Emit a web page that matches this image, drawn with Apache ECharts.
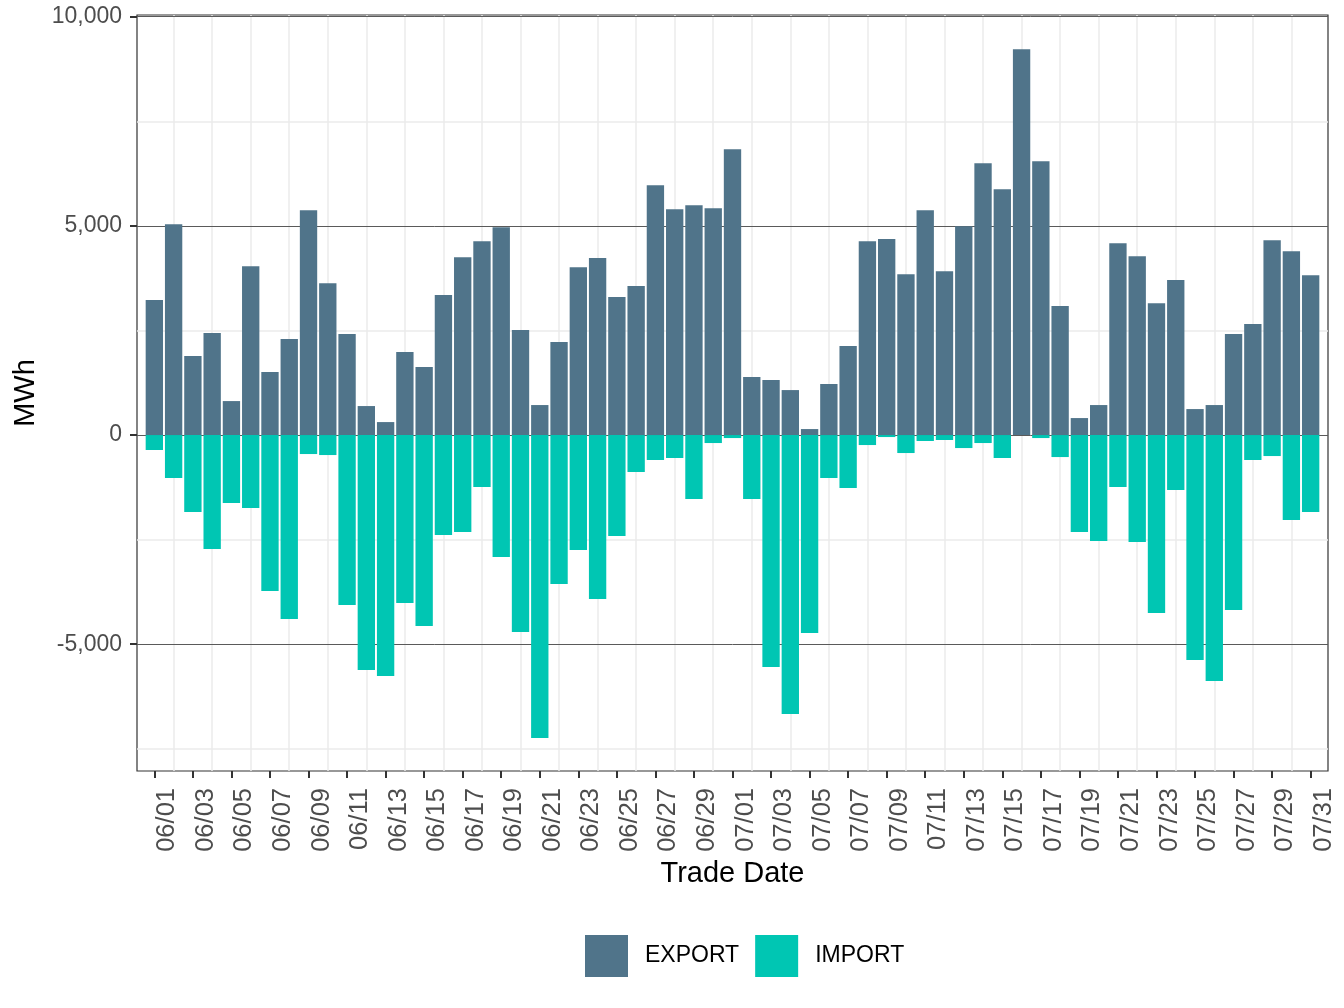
<!DOCTYPE html>
<html>
<head>
<meta charset="utf-8">
<script src="https://cdn.jsdelivr.net/npm/echarts@6/dist/echarts.min.js"></script>
<style>
html,body{margin:0;padding:0;background:#fff;}
#chart{width:1344px;height:1008px;}
</style>
</head>
<body>
<div id="chart"></div>
<script>
const dates = ['06/01','06/02','06/03','06/04','06/05','06/06','06/07','06/08','06/09','06/10',
  '06/11','06/12','06/13','06/14','06/15','06/16','06/17','06/18','06/19','06/20',
  '06/21','06/22','06/23','06/24','06/25','06/26','06/27','06/28','06/29','06/30',
  '07/01','07/02','07/03','07/04','07/05','07/06','07/07','07/08','07/09','07/10',
  '07/11','07/12','07/13','07/14','07/15','07/16','07/17','07/18','07/19','07/20',
  '07/21','07/22','07/23','07/24','07/25','07/26','07/27','07/28','07/29','07/30','07/31'];
const exportVals = [3225,5041,1887,2437,812,4037,1505,2293,5375,3631,
  2413,693,310,1983,1624,3345,4252,4635,4969,2508,
  717,2222,4013,4229,3297,3560,5972,5399,5495,5423,
  6833,1386,1314,1075,143,1218,2126,4635,4683,3846,
  5375,3918,4990,6498,5877,9221,6546,3082,406,717,
  4587,4276,3153,3703,621,717,2413,2652,4659,4396,3822];
const importVals = [-358,-1027,-1840,-2723,-1625,-1744,-3727,-4396,-454,-478,
  -4061,-5614,-5757,-4013,-4563,-2389,-2317,-1242,-2914,-4706,
  -7239,-3560,-2747,-3918,-2413,-884,-597,-549,-1529,-191,
  -72,-1529,-5542,-6665,-4730,-1027,-1266,-239,-48,-430,
  -143,-119,-311,-191,-549,0,-72,-526,-2317,-2532,
  -1242,-2556,-4252,-1314,-5375,-5877,-4181,-597,-502,-2031,-1840];
const yMajorTicks = [-5000, 0, 5000, 10000];
const yMinorLines = [-7500, -2500, 2500, 7500];
const xLabelDays = [1,3,5,7,9,11,13,15,17,19,21,23,25,27,29,31,33,35,37,39,41,43,45,47,49,51,53,55,57,59,61];
const xMinorDays = [2,4,6,8,10,12,14,16,18,20,22,24,26,28,30,32,34,36,38,40,42,44,46,48,50,52,54,56,58,60];

const FONT = 'Liberation Sans';
const chart = echarts.init(document.getElementById('chart'), null, {renderer:'canvas'});

const gridLines = [];
xMinorDays.forEach(d => gridLines.push({xAxis: d, lineStyle:{color:'#EBEBEB', width:1.5, type:'solid'}}));
yMinorLines.forEach(v => gridLines.push({yAxis: v, lineStyle:{color:'#EBEBEB', width:1.5, type:'solid'}}));
yMajorTicks.forEach(v => gridLines.push({yAxis: v, lineStyle:{color:'#5A5A5A', width:1, type:'solid'}}));

chart.setOption({
  animation: false,
  backgroundColor: '#ffffff',
  grid: {left:137, right:16, top:15, bottom:237, show:true, borderColor:'#333333', borderWidth:1.2,
         backgroundColor:'transparent', outerBoundsMode:'none', containLabel:false},
  legend: {
    left: 585, top: 935, padding: 0, itemWidth: 43, itemHeight: 42, itemGap: 16, icon: 'rect',
    textStyle: {fontFamily: FONT, fontSize: 23, color: '#000', padding:[0,0,0,12]},
    data: ['EXPORT','IMPORT']
  },
  xAxis: {
    type: 'value', min: 0.1, max: 61.9,
    name: 'Trade Date', nameLocation: 'middle', nameGap: 86,
    nameTextStyle: {fontFamily: FONT, fontSize: 29, color: '#000'},
    axisLine: {show:false, onZero:false},
    splitLine: {show:false},
    axisTick: {show:true, length:7, lineStyle:{color:'#333333', width:2}, customValues: xLabelDays},
    axisLabel: {show:true, rotate:90, margin:17, fontFamily: FONT, fontSize:25.5, color:'#4D4D4D',
      verticalAlign:'top', padding:[0,0,0,0],
      customValues: xLabelDays, formatter: v => dates[Math.round(v)-1] || ''}
  },
  yAxis: {
    type: 'value', min: -8030, max: 10040,
    name: 'MWh', nameLocation: 'middle', nameGap: 96, nameRotate: 90,
    nameTextStyle: {fontFamily: FONT, fontSize: 29, color: '#000'},
    axisLine: {show:false, onZero:false},
    splitLine: {show:false},
    axisTick: {show:true, length:7, lineStyle:{color:'#333333', width:2}, customValues: yMajorTicks},
    axisLabel: {show:true, margin:15, fontFamily: FONT, fontSize:23, color:'#4D4D4D',
      customValues: yMajorTicks, formatter: v => Math.round(v).toLocaleString('en-US')}
  },
  series: [
    {
      type: 'line', data: [], silent: true, z: 1,
      markLine: {silent:true, symbol:['none','none'], z:1, label:{show:false}, animation:false, data: gridLines}
    },
    {
      name: 'EXPORT', type: 'bar', stack: 'total', barWidth: '90%', z: 3,
      itemStyle: {color: '#50748A'},
      data: exportVals.map((v,i) => [i+1, v])
    },
    {
      name: 'IMPORT', type: 'bar', stack: 'total', barWidth: '90%', z: 3,
      itemStyle: {color: '#00C6B3'},
      data: importVals.map((v,i) => [i+1, v])
    }
  ]
});
</script>
</body>
</html>
